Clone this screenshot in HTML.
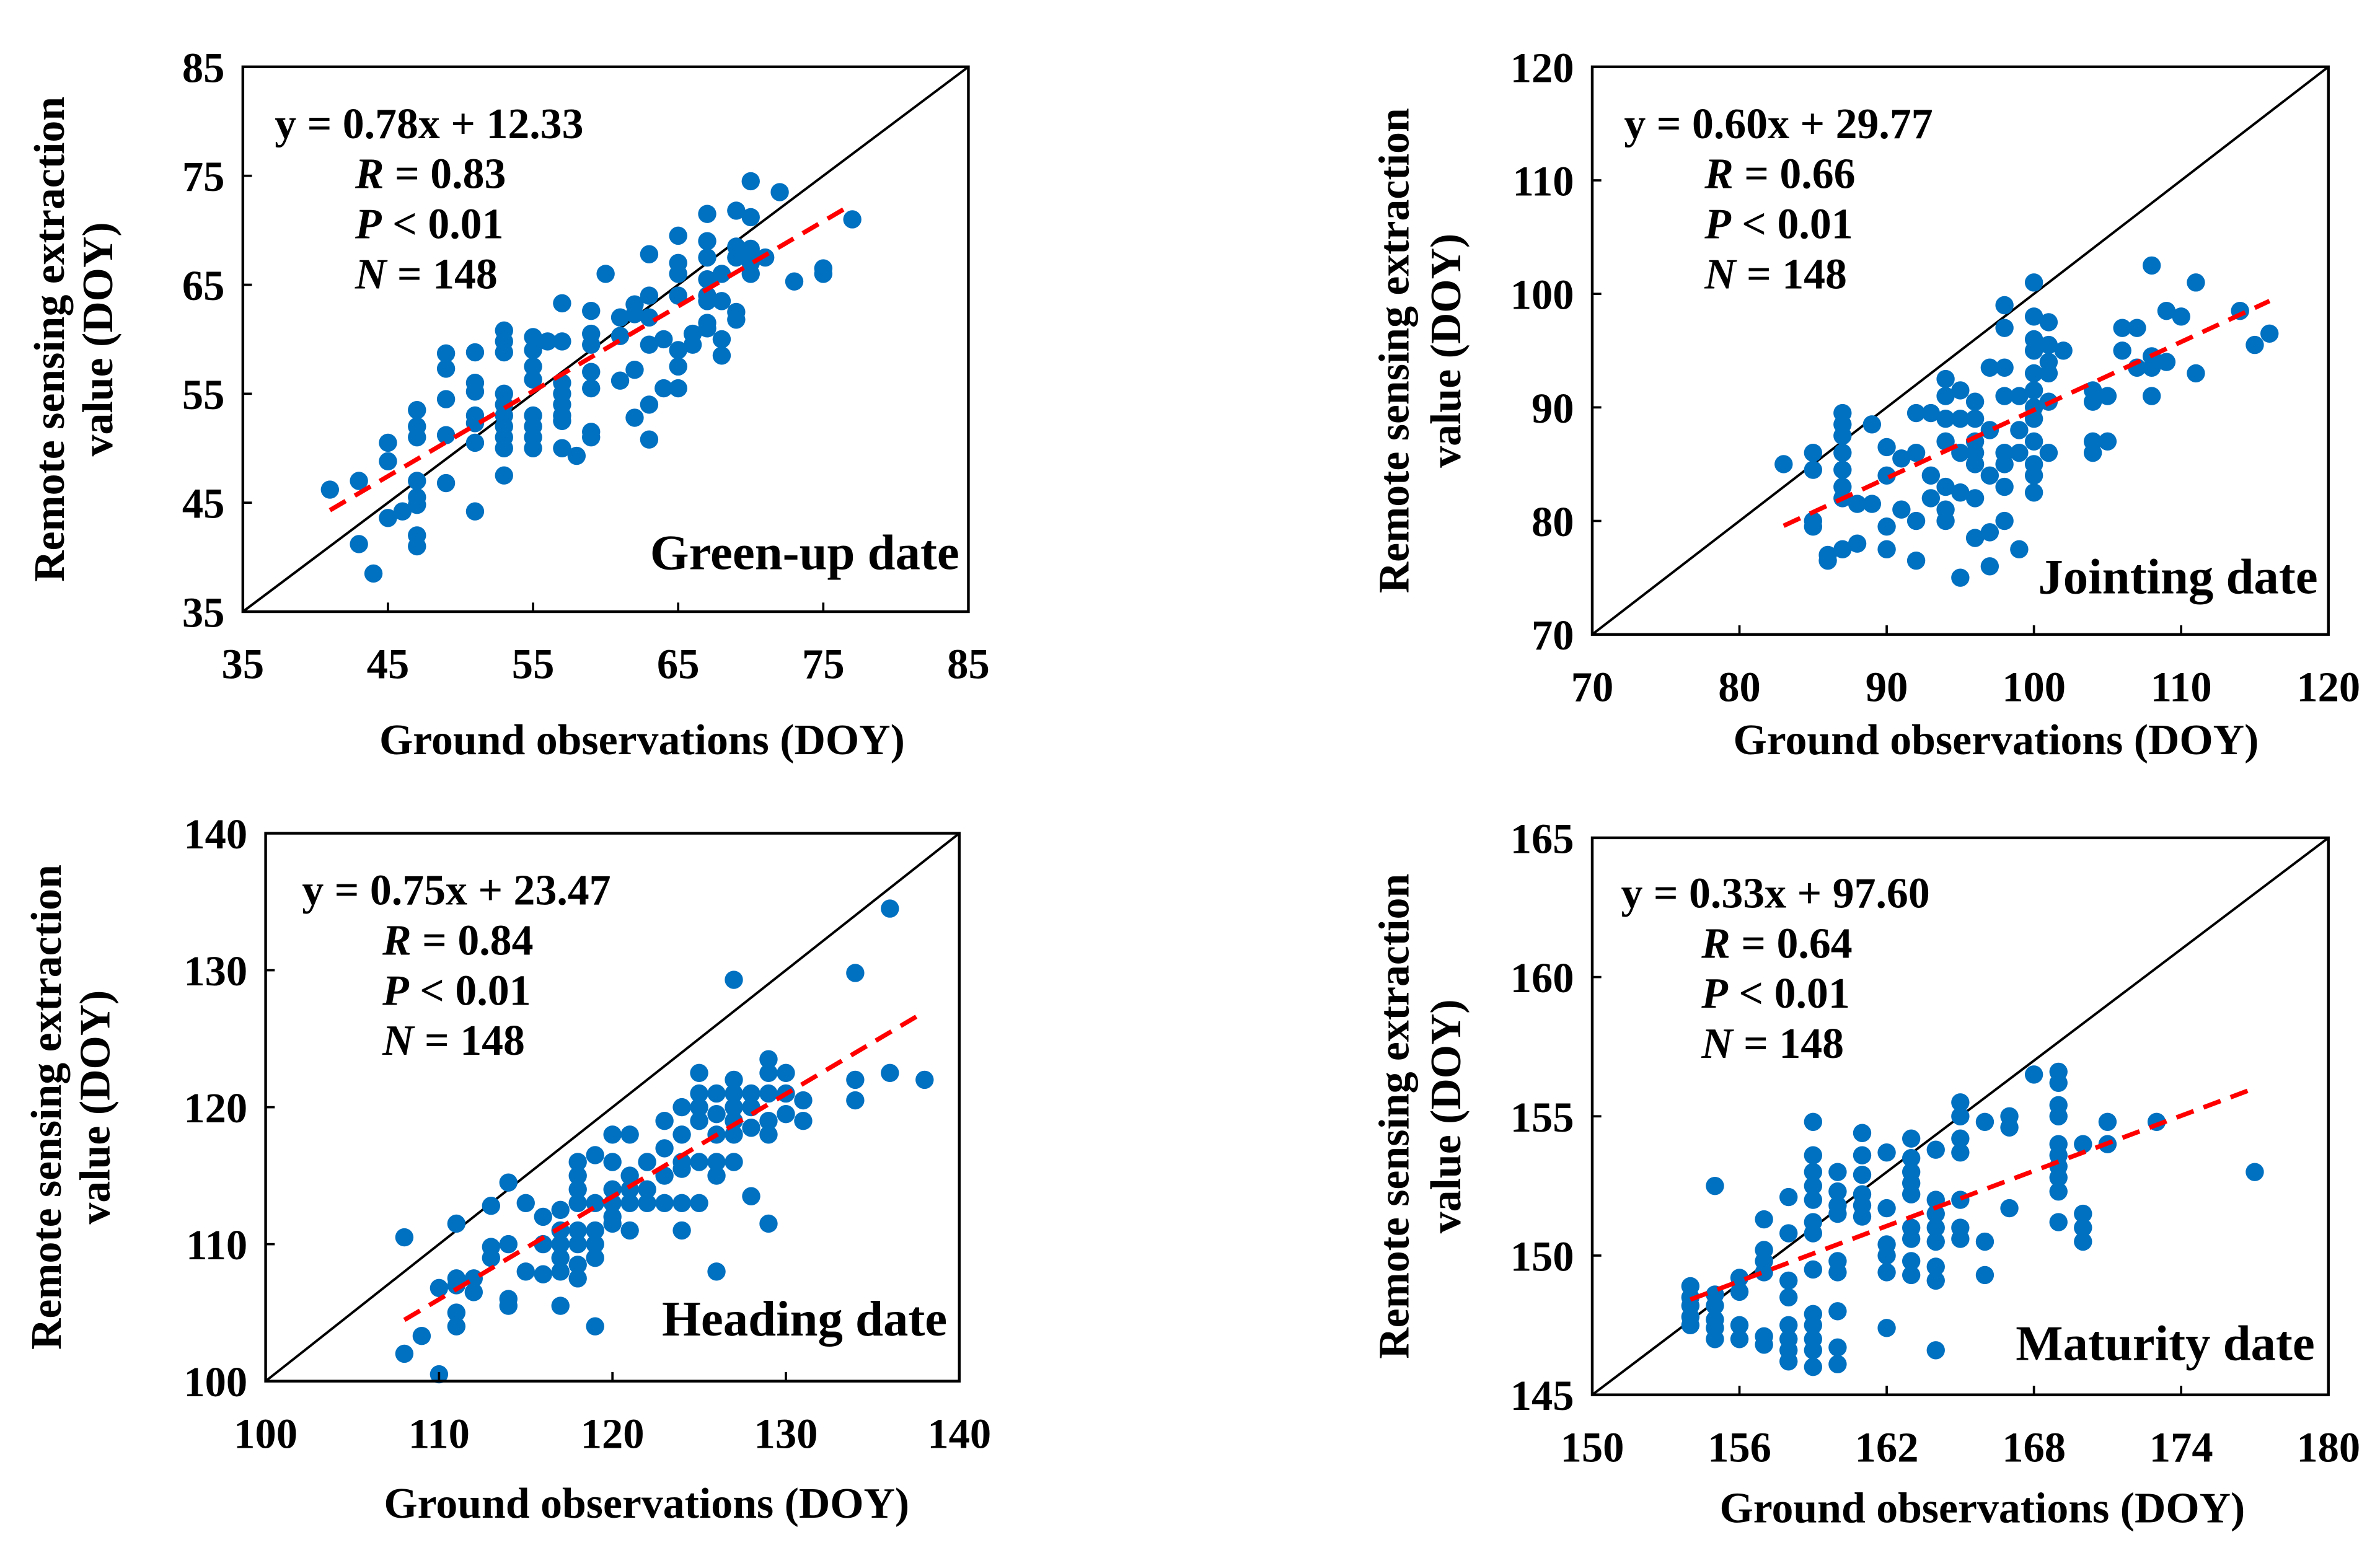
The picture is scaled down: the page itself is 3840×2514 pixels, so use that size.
<!DOCTYPE html>
<html><head><meta charset="utf-8"><style>
html,body{margin:0;padding:0;background:#fff}
svg{display:block}
text{font-family:"Liberation Serif",serif;font-weight:bold;fill:#000}
</style></head><body>
<svg id="fig" width="3840" height="2514" viewBox="0 0 1568 1026.5" xmlns="http://www.w3.org/2000/svg"></svg>
<script>
// ---- data ----
const greenupX=[41,43,43,44,45,45,45,46,47,47,47,47,47,47,47,47,49,49,49,49,49,51,51,51,51,51,51,51,53,53,53,53,53,53,53,53,53,53,55,55,55,55,55,55,55,55,56,57,57,57,57,57,57,57,57,58,59,59,59,59,59,59,59,60,61,61,61,62,62,62,62,63,63,63,63,63,63,64,64,65,65,65,65,65,65,65,66,66,67,67,67,67,67,67,67,67,68,68,68,68,69,69,69,69,69,70,70,70,70,70,71,72,73,75,75,77];
const greenupY=[46.2,47,41.2,38.5,50.5,48.8,43.6,44.2,53.5,52,51,47,45.5,44.8,42,41,58.7,57.3,54.5,51.2,46.8,58.8,56,55.2,53,52.3,50.5,44.2,60.8,59.8,58.8,55,54,53,52,51,50,47.5,60.2,59,57.5,56.3,53,52,51,50,59.8,63.3,59.8,56,55,54,53,52.5,50,49.3,62.6,60.5,59.5,57,55.5,51.5,51,66,62,60.3,56.2,63.2,62.3,57.2,52.8,67.8,64,62,59.5,54,50.8,60,55.5,69.5,67,66,64,59,57.5,55.5,60.5,59.5,71.5,69,67.5,65.5,64,63.5,61.5,61,66,63.5,60,58.5,71.8,68.5,67.5,62.5,61.8,74.5,71.2,68.3,67,66,67.5,73.5,65.3,66.5,66,71];
const jointX=[83,85,85,85,85,86,86,87,87,87,87,87,87,87,87,88,88,89,89,90,90,90,90,91,91,92,92,92,92,93,93,93,94,94,94,94,94,94,94,95,95,95,95,95,96,96,96,96,96,96,96,97,97,97,97,97,98,98,98,98,98,98,98,98,99,99,99,99,100,100,100,100,100,100,100,100,100,100,100,100,101,101,101,101,101,101,102,104,104,104,104,105,105,106,106,107,107,108,108,108,108,109,109,110,111,111,114,115,116];
const jointY=[85,86,84.5,80,79.5,77,76.5,89.5,88.5,87.5,86,84.5,83,82,77.5,81.5,78,88.5,81.5,86.5,84,79.5,77.5,85.5,81,89.5,86,80,76.5,89.5,84,82,92.5,91,89,87,83,81,80,91.5,89,86,82.5,75,90.5,89,87,86,85,82,78.5,93.5,88,84,79,76,99,97,93.5,91,86,85,83,80,91,88,86,77.5,101,98,96,95,93,91.5,90,89,87,85,84,82.5,97.5,95.5,94,93,90.5,86,95,91.5,90.5,87,86,91,87,97,95,97,93.5,102.5,94.5,93.5,91,98.5,94,98,101,93,98.5,95.5,96.5];
const headX=[108,108,109,110,110,111,111,111,111,111,112,112,113,113,113,114,114,114,114,115,115,116,116,116,117,117,117,117,117,117,118,118,118,118,118,118,118,118,119,119,119,119,119,119,120,120,120,120,120,120,121,121,121,121,121,122,122,122,123,123,123,123,124,124,124,124,124,124,125,125,125,125,125,125,126,126,126,126,126,126,127,127,127,127,127,127,127,128,128,128,128,129,129,129,129,129,129,130,130,130,131,131,134,134,134,136,136,138];
const headY=[110.5,102,103.3,106.8,100.5,111.5,107.5,107,105,104,107.5,106.5,112.8,109.8,109,114.5,110,106,105.5,113,108,112,110,107.8,112.5,111,110,109,108,105.5,116,115,114,113,111,110,108.5,107.5,116.5,113,111,110,109,104,118,116,114,113,112,111.5,118,115,114,113,111,116,114,113,119,117,115,113,120,118,116,115.5,113,111,122.5,121,120,119,116,113,121,119.5,118,116,115,108,129.3,122,121,120,119,118,116,121,120,118.5,113.5,123.5,122.5,121,119,118,111.5,122.5,121,119.5,120.5,119,129.8,122,120.5,134.5,122.5,122];
const matX=[154,154,154,154,154,155,155,155,155,155,155,156,156,156,156,157,157,157,157,157,157,158,158,158,158,158,158,158,158,159,159,159,159,159,159,159,159,159,159,159,159,159,160,160,160,160,160,160,160,160,160,161,161,161,161,161,161,162,162,162,162,162,162,163,163,163,163,163,163,163,163,163,164,164,164,164,164,164,164,164,165,165,165,165,165,165,165,166,166,166,167,167,167,168,169,169,169,169,169,169,169,169,169,169,170,170,170,170,171,171,173,177];
const matY=[148.9,148.5,148.2,147.8,147.5,152.5,148.6,148.2,147.7,147.4,147,149.2,148.7,147.5,147,151.3,150.2,149.8,149.4,147.1,146.8,152.1,150.8,149.1,148.5,147.5,147,146.6,146.2,154.8,153.6,153,152.5,152,151.2,150.8,149.5,147.9,147.5,147,146.6,146,153,152.3,151.8,151.5,149.8,149.4,148,146.7,146.1,154.4,153.6,152.9,152.2,151.8,151.4,153.7,151.7,150.4,150,149.4,147.4,154.2,153.5,153,152.6,152.2,151,150.6,149.8,149.3,153.8,152,151.5,151,150.5,149.6,149.1,146.6,155.5,155,154.2,153.7,152,151,150.6,154.8,150.5,149.3,155,154.6,151.7,156.5,156.6,156.2,155.4,155,154,153.6,153.2,152.8,152.3,151.2,154,151.5,151,150.5,154.8,154,154.8,153];
const greenupTicks=[35,45,55,65,75,85];
const jointTicks=[70,80,90,100,110,120];
const headTicks=[100,110,120,130,140];
const matXTicks=[150,156,162,168,174,180];
const matYTicks=[145,150,155,160,165];
const slopes=[0.78,0.60,0.75,0.33];
const intercepts=[12.33,29.77,23.47,97.60];
const fitRanges=[[41,77],[83,116],[108,138],[154,177]];
const eqLabels=["y = 0.78x + 12.33","y = 0.60x + 29.77","y = 0.75x + 23.47","y = 0.33x + 97.60"];
const rLabels=["0.83","0.66","0.84","0.64"];
const titles=["Green-up  date","Jointing date","Heading date","Maturity date"];

const NS="http://www.w3.org/2000/svg";
const svg=document.getElementById('fig');
function mk(tag,attrs,parent){const e=document.createElementNS(NS,tag);for(const k in attrs)e.setAttribute(k,attrs[k]);(parent||svg).appendChild(e);return e;}

const panels=[
 {id:'greenup',box:[160,44,638,403],xt:greenupTicks,yt:greenupTicks,X:greenupX,Y:greenupY,ytx:[32,64],eq:[181,91],lab:[632,375],xtitle:[423,497]},
 {id:'jointing',box:[1049,44,1534,418],xt:jointTicks,yt:jointTicks,X:jointX,Y:jointY,ytx:[918,952],eq:[1070,91],lab:[1527,391],xtitle:[1315,497]},
 {id:'heading',box:[175,549,632,910],xt:headTicks,yt:headTicks,X:headX,Y:headY,ytx:[30,62],eq:[199,596],lab:[624,880],xtitle:[426,1000]},
 {id:'maturity',box:[1049,552,1534,919],xt:matXTicks,yt:matYTicks,X:matX,Y:matY,ytx:[918,952],eq:[1068,598],lab:[1525,896],xtitle:[1306,1003]}
];

panels.forEach((p,i)=>{
 const g=mk('g',{});
 
 
 const [x0,y0,x1,y1]=p.box;
 const xmin=p.xt[0],xmax=p.xt[p.xt.length-1],ymin=p.yt[0],ymax=p.yt[p.yt.length-1];
 const sx=v=>x0+(v-xmin)/(xmax-xmin)*(x1-x0);
 const sy=v=>y1-(v-ymin)/(ymax-ymin)*(y1-y0);
 const d=mk('line',{x1:x0,y1:y1,x2:x1,y2:y0,stroke:'#000','stroke-width':1.6},g);
 
 
 p.X.forEach((xv,j)=>{
  const c=mk('circle',{cx:sx(xv),cy:sy(p.Y[j]),r:6,fill:'#0070c0'},g);
  
  
 });
 const [fa,fb]=fitRanges[i];
 const f=mk('line',{x1:sx(fa),y1:sy(slopes[i]*fa+intercepts[i]),x2:sx(fb),y2:sy(slopes[i]*fb+intercepts[i]),stroke:'#ff0000','stroke-width':3,'stroke-dasharray':'12,7'},g);
 
 
 const b=mk('rect',{x:x0,y:y0,width:x1-x0,height:y1-y0,fill:'none',stroke:'#000','stroke-width':1.8},g);
 
 
 p.xt.forEach(v=>{
  mk('line',{x1:sx(v),y1:y1,x2:sx(v),y2:y1-6,stroke:'#000','stroke-width':1.5},g);
  const t=mk('text',{x:sx(v),y:y1+44,'text-anchor':'middle','font-size':28},g);
  t.textContent=v;
  
  
 });
 p.yt.forEach(v=>{
  mk('line',{x1:x0,y1:sy(v),x2:x0+6,y2:sy(v),stroke:'#000','stroke-width':1.5},g);
  const t=mk('text',{x:x0-12,y:sy(v)+10,'text-anchor':'end','font-size':28},g);
  t.textContent=v;
  
  
 });
 const xt=mk('text',{x:p.xtitle[0],y:p.xtitle[1],'text-anchor':'middle','font-size':28.5},g);
 xt.textContent='Ground observations (DOY)';
 
 
 const cy=(y0+y1)/2;
 ['Remote sensing extraction','value (DOY)'].forEach((s,k)=>{
  const t=mk('text',{x:p.ytx[k]+10,y:cy,'text-anchor':'middle','font-size':28.5,transform:`rotate(-90 ${p.ytx[k]+10} ${cy})`},g);
  t.textContent=s;
  
  
 });
 const [ex,ey]=p.eq;
 const e1=mk('text',{x:ex,y:ey,'font-size':28.5},g);
 e1.textContent=eqLabels[i];
 
 
 const lines=[['R',' = '+rLabels[i]],['P',' < 0.01'],['N',' = 148']];
 lines.forEach((l,k)=>{
  const t=mk('text',{x:ex+53,y:ey+33*(k+1),'font-size':28.5},g);
  const a=mk('tspan',{'font-style':'italic'},t);a.textContent=l[0];
  const bb=mk('tspan',{},t);bb.textContent=l[1];
  
  
 });
 const tl=mk('text',{x:p.lab[0],y:p.lab[1],'text-anchor':'end','font-size':33},g);
 tl.textContent=titles[i];
 
 
});
</script>
</body></html>
